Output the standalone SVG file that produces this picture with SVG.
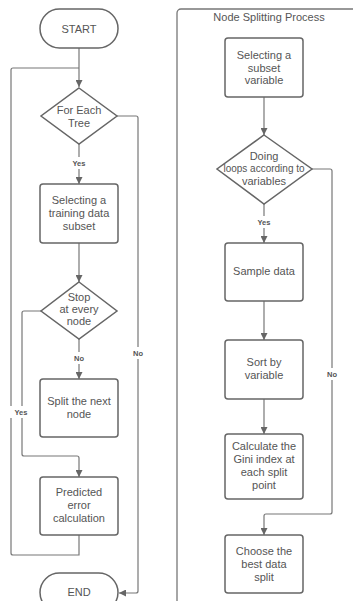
<svg xmlns="http://www.w3.org/2000/svg" width="353" height="601" viewBox="0 0 353 601">
<defs>
<marker id="arr" viewBox="0 0 10 10" refX="10" refY="5" markerWidth="7" markerHeight="7" markerUnits="userSpaceOnUse" orient="auto">
<path d="M0,0 L10,5 L0,10 Z" fill="#666"/>
</marker>
<style>
.n{fill:#fff;stroke:#666;stroke-width:1.5}
.t{font-family:"Liberation Sans",Arial,sans-serif;font-size:11px;fill:#555;text-anchor:middle;dominant-baseline:central}
.l{font-family:"Liberation Sans",Arial,sans-serif;font-size:7.5px;font-weight:bold;fill:#555;text-anchor:middle;dominant-baseline:central}
.c{fill:none;stroke:#777;stroke-width:1.2}
.f{fill:none;stroke:#777;stroke-width:1.3}
</style>
</defs>
<rect fill="#fff" x="0" y="0" width="353" height="601"/>
<g id="frame">
<rect class="f" x="177" y="9" width="200" height="620" rx="4"/>
<text class="t" x="269" y="17">Node Splitting Process</text>
</g>
<g id="connectors">
<path class="c" d="M79,48 V87" marker-end="url(#arr)"/>
<path class="c" d="M79,535 V555 H13 Q11,555 11,553 V70 Q11,68 13,68 H79"/>
<path class="c" d="M79,144 V184" marker-end="url(#arr)"/>
<path class="c" d="M117,116 H136 Q138,116 138,118 V591 Q138,593 136,593 H119" marker-end="url(#arr)"/>
<path class="c" d="M79,243 V282" marker-end="url(#arr)"/>
<path class="c" d="M79,339 V379" marker-end="url(#arr)"/>
<path class="c" d="M41,311 H24 Q22,311 22,313 V454 Q22,456 24,456 H77 Q79,456 79,458 V477" marker-end="url(#arr)"/>
<path class="c" d="M264,97 V135" marker-end="url(#arr)"/>
<path class="c" d="M264,204 V243" marker-end="url(#arr)"/>
<path class="c" d="M312,169 H330 Q332,169 332,171 V512 Q332,514 330,514 H266 Q264,514 264,516 V535" marker-end="url(#arr)"/>
<path class="c" d="M264,301 V340" marker-end="url(#arr)"/>
<path class="c" d="M264,399 V434" marker-end="url(#arr)"/>
<rect x="127" y="347" width="22" height="12" fill="#fff"/>
<text class="l" x="138" y="353">No</text>
<rect x="68" y="157" width="22" height="12" fill="#fff"/>
<text class="l" x="79" y="163">Yes</text>
<rect x="68" y="352" width="22" height="12" fill="#fff"/>
<text class="l" x="79" y="358">No</text>
<rect x="10" y="406" width="24" height="12" fill="#fff"/>
<text class="l" x="21" y="412">Yes</text>
<rect x="253" y="216" width="22" height="12" fill="#fff"/>
<text class="l" x="264" y="222">Yes</text>
<rect x="321" y="368" width="22" height="12" fill="#fff"/>
<text class="l" x="332" y="374">No</text>
</g>
<g id="start">
<rect class="n" x="40" y="9" width="78" height="39" rx="19.5"/>
<text class="t" x="79" y="28.5">START</text>
</g>
<g id="foreachtree">
<polygon class="n" points="79,88 117,116 79,144 41,116"/>
<text class="t" x="79" y="110">For Each</text>
<text class="t" x="79" y="123">Tree</text>
</g>
<g id="selecttraining">
<rect class="n" x="40" y="184" width="78" height="59" rx="3"/>
<text class="t" x="79" y="200">Selecting a</text>
<text class="t" x="79" y="213">training data</text>
<text class="t" x="79" y="226">subset</text>
</g>
<g id="stopnode">
<polygon class="n" points="79,282 117,311 79,339 41,311"/>
<text class="t" x="79" y="297">Stop</text>
<text class="t" x="79" y="309">at every</text>
<text class="t" x="79" y="321">node</text>
</g>
<g id="splitnext">
<rect class="n" x="40" y="379" width="78" height="58" rx="3"/>
<text class="t" x="79" y="401">Split the next</text>
<text class="t" x="79" y="414">node</text>
</g>
<g id="predicted">
<rect class="n" x="40" y="477" width="78" height="58" rx="3"/>
<text class="t" x="79" y="492">Predicted</text>
<text class="t" x="79" y="505">error</text>
<text class="t" x="79" y="518">calculation</text>
</g>
<g id="end">
<rect class="n" x="40" y="573" width="78" height="39" rx="19.5"/>
<text class="t" x="79" y="592">END</text>
</g>
<g id="selectsubset">
<rect class="n" x="225" y="38" width="78" height="59" rx="3"/>
<text class="t" x="264" y="55">Selecting a</text>
<text class="t" x="264" y="67.5">subset</text>
<text class="t" x="264" y="80">variable</text>
</g>
<g id="doingloops">
<polygon class="n" points="264,135 312,169 264,204 217,169"/>
<text class="t" x="264" y="156">Doing</text>
<text class="t" x="264" y="168.5" style="font-size:10px">loops according to</text>
<text class="t" x="264" y="181">variables</text>
</g>
<g id="sampledata">
<rect class="n" x="225" y="243" width="78" height="58" rx="3"/>
<text class="t" x="264" y="271">Sample data</text>
</g>
<g id="sortby">
<rect class="n" x="225" y="340" width="78" height="59" rx="3"/>
<text class="t" x="264" y="362">Sort by</text>
<text class="t" x="264" y="375">variable</text>
</g>
<g id="gini">
<rect class="n" x="225" y="434" width="78" height="65" rx="3"/>
<text class="t" x="264" y="446">Calculate the</text>
<text class="t" x="264" y="459">Gini index at</text>
<text class="t" x="264" y="472">each split</text>
<text class="t" x="264" y="485">point</text>
</g>
<g id="choosebest">
<rect class="n" x="225" y="535" width="78" height="58" rx="3"/>
<text class="t" x="264" y="551">Choose the</text>
<text class="t" x="264" y="564">best data</text>
<text class="t" x="264" y="577">split</text>
</g>
</svg>
